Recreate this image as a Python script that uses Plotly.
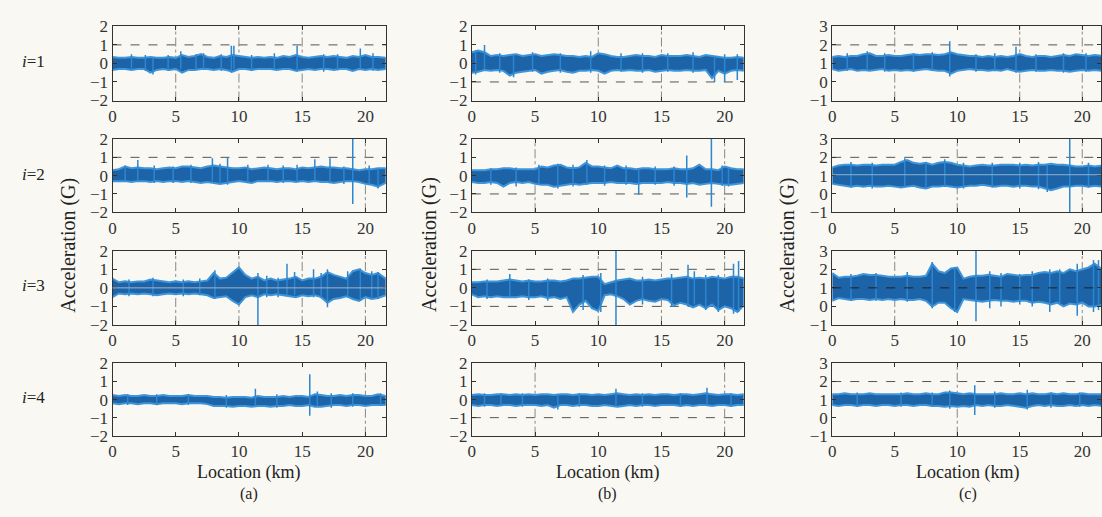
import plotly.graph_objects as go

LOC = [0, 0.5, 1, 1.5, 2, 2.5, 3, 3.5, 4, 4.5,
       5, 5.5, 6, 6.5, 7, 7.5, 8, 8.5, 9, 9.5,
       10, 10.5, 11, 11.5, 12, 12.5, 13, 13.5, 14, 14.5,
       15, 15.5, 16, 16.5, 17, 17.5, 18, 18.5, 19, 19.5,
       20, 20.5, 21, 21.6]

# ---- column (a) ----
A1_UP = [0.35,0.3,0.3,0.35,0.3,0.3,0.35,0.3,0.3,0.35,
         0.3,0.45,0.35,0.4,0.5,0.35,0.3,0.4,0.35,0.45,
         0.4,0.35,0.3,0.35,0.3,0.35,0.3,0.4,0.35,0.45,
         0.35,0.3,0.35,0.4,0.35,0.4,0.35,0.3,0.4,0.35,
         0.45,0.35,0.35,0.3]
A1_LO = [-0.35,-0.3,-0.3,-0.35,-0.3,-0.3,-0.5,-0.35,-0.3,-0.35,
         -0.3,-0.5,-0.35,-0.35,-0.3,-0.3,-0.35,-0.3,-0.35,-0.45,
         -0.3,-0.3,-0.35,-0.3,-0.3,-0.3,-0.35,-0.3,-0.3,-0.4,
         -0.35,-0.3,-0.35,-0.3,-0.3,-0.35,-0.3,-0.3,-0.4,-0.3,
         -0.35,-0.3,-0.35,-0.3]
A1_SPK = [(5.4,0.65,-0.3),(7.2,0.55,-0.3),(9.4,0.95,-0.5),(9.6,0.95,-0.3),
          (14.6,0.95,-0.45),(19.6,0.8,-0.3),(3.2,0.3,-0.6),
          (1.5,0.5,-0.35),(2.6,0.45,-0.4),(4.4,0.45,-0.4),(6.6,0.5,-0.35),
          (8.6,0.5,-0.4),(11.0,0.45,-0.4),(12.8,0.55,-0.35),(16.7,0.5,-0.45),
          (17.8,0.5,-0.35),(20.6,0.55,-0.4)]

A2_UP = [0.3,0.35,0.5,0.4,0.45,0.4,0.4,0.35,0.4,0.45,
         0.4,0.5,0.5,0.45,0.4,0.5,0.55,0.5,0.45,0.4,
         0.4,0.45,0.35,0.4,0.45,0.4,0.35,0.4,0.4,0.35,
         0.45,0.4,0.45,0.5,0.45,0.45,0.4,0.4,0.35,0.3,
         0.35,0.35,0.4,0.4]
A2_LO = [-0.3,-0.3,-0.3,-0.35,-0.3,-0.3,-0.35,-0.3,-0.35,-0.3,
         -0.3,-0.35,-0.3,-0.35,-0.4,-0.35,-0.4,-0.45,-0.4,-0.35,
         -0.3,-0.35,-0.4,-0.3,-0.3,-0.3,-0.35,-0.3,-0.3,-0.35,
         -0.3,-0.35,-0.3,-0.35,-0.35,-0.4,-0.35,-0.3,-0.3,-0.35,
         -0.45,-0.5,-0.6,-0.4]
A2_SPK = [(1.0,0.55,-0.3),(2.0,0.85,-0.3),(7.9,0.95,-0.3),(9.1,1.0,-0.5),
          (12.3,0.6,-0.3),(16.0,0.9,-0.3),(17.2,0.95,-0.4),(19.0,2.0,-1.55),
          (21.0,0.4,-0.7),
          (3.3,0.55,-0.4),(4.8,0.5,-0.4),(6.2,0.6,-0.4),(8.5,0.65,-0.45),
          (10.7,0.6,-0.4),(13.5,0.55,-0.4),(14.6,0.6,-0.35),(18.3,0.5,-0.45),
          (20.3,0.55,-0.5)]

A3_UP = [0.5,0.3,0.35,0.3,0.35,0.35,0.45,0.4,0.35,0.3,
         0.35,0.3,0.35,0.3,0.35,0.4,0.8,0.5,0.55,0.8,
         1.1,0.7,0.5,0.6,0.4,0.5,0.4,0.45,0.5,0.6,
         0.4,0.5,0.5,0.6,0.85,0.7,0.6,0.5,0.9,1.0,
         0.8,0.7,0.8,0.5]
A3_LO = [-0.5,-0.3,-0.35,-0.3,-0.35,-0.3,-0.35,-0.4,-0.35,-0.3,
         -0.35,-0.3,-0.35,-0.3,-0.35,-0.4,-0.55,-0.5,-0.45,-0.7,
         -0.9,-0.5,-0.4,-0.5,-0.35,-0.4,-0.35,-0.4,-0.45,-0.5,
         -0.4,-0.45,-0.4,-0.5,-0.8,-0.6,-0.55,-0.45,-0.6,-0.7,
         -0.5,-0.6,-0.55,-0.4]
A3_SPK = [(8.1,0.95,-0.6),(11.5,0.8,-2.0),(13.8,1.3,-0.4),(14.4,0.85,-0.4),
          (15.9,1.0,-0.5),(17.0,1.0,-1.05),(18.6,0.9,-0.5),(19.6,1.05,-0.7),
          (20.5,0.9,-0.5),
          (1.3,0.45,-0.45),(3.2,0.55,-0.45),(5.6,0.45,-0.45),(6.9,0.5,-0.4),
          (12.2,0.65,-0.5),(13.1,0.55,-0.5),(16.5,0.8,-0.55),(21.0,0.85,-0.6)]

A4_UP = [0.25,0.2,0.25,0.2,0.2,0.25,0.2,0.2,0.25,0.2,
         0.2,0.2,0.25,0.2,0.2,0.2,0.15,0.15,0.1,0.15,
         0.15,0.15,0.1,0.2,0.15,0.15,0.15,0.2,0.15,0.2,
         0.2,0.15,0.3,0.25,0.2,0.2,0.25,0.2,0.25,0.25,
         0.2,0.2,0.3,0.2]
A4_LO = [-0.2,-0.25,-0.2,-0.2,-0.25,-0.2,-0.2,-0.25,-0.2,-0.2,
         -0.2,-0.25,-0.2,-0.2,-0.2,-0.25,-0.35,-0.35,-0.35,-0.4,
         -0.35,-0.35,-0.4,-0.35,-0.35,-0.4,-0.35,-0.35,-0.3,-0.35,
         -0.35,-0.3,-0.4,-0.4,-0.35,-0.3,-0.3,-0.35,-0.3,-0.3,
         -0.35,-0.3,-0.3,-0.3]
A4_SPK = [(11.3,0.6,-0.3),(15.6,1.4,-0.9),(16.2,0.45,-0.35),(21.2,0.35,-0.35),
          (1.2,0.3,-0.3),(3.5,0.3,-0.3),(6.0,0.3,-0.3),(9.0,0.25,-0.45),
          (13.0,0.3,-0.45),(17.3,0.35,-0.45),(19.0,0.35,-0.4)]

# ---- column (b) ----
B1_UP = [0.6,0.7,0.6,0.4,0.45,0.4,0.45,0.5,0.4,0.45,
         0.5,0.4,0.45,0.5,0.45,0.4,0.4,0.35,0.4,0.35,
         0.55,0.5,0.4,0.35,0.35,0.4,0.45,0.4,0.4,0.35,
         0.45,0.4,0.4,0.4,0.45,0.4,0.35,0.45,0.4,0.35,
         0.3,0.3,0.35,0.3]
B1_LO = [-0.5,-0.45,-0.35,-0.4,-0.35,-0.4,-0.65,-0.5,-0.45,-0.4,
         -0.35,-0.55,-0.45,-0.4,-0.35,-0.45,-0.5,-0.4,-0.4,-0.35,
         -0.4,-0.55,-0.4,-0.35,-0.4,-0.35,-0.4,-0.4,-0.35,-0.45,
         -0.4,-0.35,-0.4,-0.4,-0.35,-0.4,-0.4,-0.35,-0.8,-0.4,
         -0.55,-0.4,-0.35,-0.4]
B1_SPK = [(1.0,1.0,-0.3),(3.3,0.5,-0.75),(19.2,0.4,-1.0),(20.0,0.5,-1.0),
          (21.0,0.5,-0.9),
          (0.3,0.7,-0.6),(2.2,0.55,-0.5),(4.8,0.6,-0.45),(7.0,0.55,-0.5),
          (9.4,0.65,-0.5),(11.8,0.55,-0.45),(13.5,0.55,-0.5),(15.5,0.55,-0.45),
          (17.5,0.6,-0.5)]

B2_UP = [0.3,0.3,0.3,0.35,0.35,0.4,0.4,0.35,0.35,0.35,
         0.35,0.5,0.45,0.55,0.6,0.45,0.4,0.45,0.7,0.5,
         0.5,0.45,0.4,0.55,0.4,0.4,0.35,0.4,0.4,0.35,
         0.35,0.35,0.4,0.35,0.35,0.4,0.6,0.35,0.35,0.3,
         0.5,0.4,0.35,0.35]
B2_LO = [-0.35,-0.4,-0.4,-0.35,-0.4,-0.6,-0.4,-0.35,-0.4,-0.35,
         -0.45,-0.5,-0.5,-0.6,-0.55,-0.5,-0.45,-0.5,-0.45,-0.4,
         -0.4,-0.4,-0.35,-0.4,-0.4,-0.4,-0.45,-0.4,-0.4,-0.4,
         -0.4,-0.35,-0.4,-0.4,-0.45,-0.4,-0.5,-0.45,-0.4,-0.45,
         -0.5,-0.5,-0.45,-0.4]
B2_SPK = [(5.3,0.6,-0.5),(6.8,0.65,-0.7),(9.1,0.85,-0.5),(13.2,0.4,-1.05),
          (17.0,1.1,-1.2),(18.95,2.0,-1.7),(20.3,0.4,-0.6),
          (1.5,0.4,-0.5),(3.5,0.45,-0.6),(8.0,0.6,-0.6),(10.5,0.55,-0.55),
          (12.2,0.55,-0.5),(14.5,0.5,-0.5),(16.0,0.5,-0.55),(19.8,0.55,-0.55)]

B3_UP = [0.3,0.3,0.35,0.35,0.35,0.4,0.45,0.4,0.35,0.4,
         0.35,0.35,0.4,0.4,0.35,0.4,0.5,0.5,0.55,0.6,
         0.6,0.2,0.3,0.4,0.45,0.5,0.4,0.4,0.45,0.4,
         0.45,0.5,0.5,0.55,0.6,0.5,0.55,0.5,0.6,0.55,
         0.5,0.6,0.6,0.5]
B3_LO = [-0.35,-0.5,-0.45,-0.5,-0.45,-0.5,-0.5,-0.5,-0.45,-0.5,
         -0.5,-0.45,-0.55,-0.5,-0.6,-0.5,-1.3,-0.9,-0.7,-1.1,
         -1.25,-0.4,-0.35,-0.45,-0.6,-0.9,-0.7,-0.6,-0.7,-0.75,
         -0.6,-0.65,-0.95,-0.8,-0.9,-1.05,-0.9,-1.1,-0.9,-1.2,
         -1.0,-1.1,-1.3,-0.9]
B3_SPK = [(3.0,0.75,-0.5),(11.4,2.0,-2.0),(17.1,1.25,-1.0),(17.6,0.9,-0.9),
          (20.7,1.3,-1.4),(21.1,1.45,-1.3),
          (1.2,0.45,-0.6),(4.5,0.45,-0.65),(6.0,0.5,-0.7),(8.8,0.7,-1.2),
          (10.2,0.8,-1.3),(13.5,0.6,-0.9),(15.8,0.75,-1.0),(18.5,0.7,-1.2),
          (19.5,0.7,-1.3)]

B4_UP = [0.25,0.3,0.25,0.25,0.3,0.3,0.25,0.3,0.25,0.3,
         0.25,0.3,0.3,0.25,0.3,0.3,0.25,0.3,0.3,0.25,
         0.3,0.25,0.3,0.35,0.3,0.25,0.3,0.25,0.3,0.25,
         0.3,0.3,0.25,0.3,0.3,0.25,0.3,0.35,0.3,0.25,
         0.3,0.3,0.25,0.3]
B4_LO = [-0.3,-0.35,-0.3,-0.3,-0.35,-0.3,-0.3,-0.35,-0.3,-0.3,
         -0.3,-0.35,-0.3,-0.45,-0.3,-0.3,-0.35,-0.3,-0.3,-0.35,
         -0.35,-0.3,-0.35,-0.4,-0.35,-0.3,-0.35,-0.3,-0.3,-0.35,
         -0.3,-0.3,-0.3,-0.35,-0.3,-0.35,-0.3,-0.3,-0.35,-0.3,
         -0.3,-0.35,-0.3,-0.3]
B4_SPK = [(11.4,0.6,-0.3),(18.6,0.65,-0.35),(6.8,0.3,-0.55),(2.3,0.35,-0.35),
          (1.0,0.35,-0.4),(4.0,0.35,-0.4),(8.5,0.35,-0.4),(13.5,0.35,-0.4),
          (16.5,0.35,-0.4),(20.5,0.35,-0.4)]

# ---- column (c) ----
C1_UP = [1.35,1.4,1.35,1.4,1.4,1.5,1.55,1.4,1.4,1.45,
         1.4,1.4,1.45,1.5,1.45,1.5,1.5,1.45,1.5,1.6,
         1.5,1.45,1.4,1.4,1.35,1.4,1.35,1.4,1.35,1.4,
         1.5,1.4,1.35,1.4,1.4,1.35,1.4,1.45,1.4,1.5,
         1.45,1.4,1.45,1.4]
C1_LO = [0.7,0.6,0.65,0.7,0.6,0.65,0.6,0.65,0.7,0.6,
         0.65,0.6,0.65,0.6,0.65,0.7,0.65,0.6,0.6,0.45,
         0.6,0.65,0.7,0.65,0.65,0.6,0.65,0.6,0.7,0.6,
         0.55,0.6,0.65,0.6,0.6,0.65,0.6,0.6,0.55,0.6,
         0.65,0.6,0.65,0.6]
C1_SPK = [(2.8,1.65,0.7),(9.4,2.2,0.3),(14.7,1.9,0.5),(8.0,1.6,0.6),
          (1.2,1.55,0.6),(4.2,1.55,0.55),(6.5,1.55,0.55),(11.5,1.5,0.55),
          (13.0,1.55,0.6),(16.3,1.5,0.55),(18.5,1.55,0.5),(20.3,1.55,0.55)]

C2_UP = [1.45,1.55,1.6,1.6,1.55,1.6,1.6,1.55,1.6,1.6,
         1.6,1.75,1.85,1.7,1.65,1.7,1.6,1.7,1.75,1.7,
         1.6,1.55,1.5,1.55,1.6,1.55,1.55,1.6,1.6,1.6,
         1.55,1.6,1.55,1.6,1.6,1.65,1.6,1.6,1.55,1.5,
         1.5,1.55,1.5,1.55]
C2_LO = [0.55,0.5,0.45,0.4,0.45,0.4,0.45,0.4,0.4,0.45,
         0.4,0.35,0.4,0.45,0.35,0.3,0.4,0.4,0.45,0.4,
         0.35,0.4,0.45,0.45,0.5,0.45,0.4,0.45,0.45,0.4,
         0.45,0.45,0.4,0.4,0.3,0.2,0.3,0.4,0.4,0.45,
         0.45,0.4,0.45,0.4]
C2_SPK = [(17.2,1.6,0.1),(19.0,3.0,-1.0),(9.0,1.9,0.4),(5.8,1.95,0.4),
          (1.5,1.75,0.35),(3.2,1.7,0.3),(7.5,1.75,0.35),(10.5,1.7,0.3),
          (12.8,1.7,0.35),(15.0,1.7,0.3),(16.5,1.75,0.25),(20.5,1.7,0.35)]

C3_UP = [1.8,1.55,1.6,1.6,1.65,1.75,1.7,1.7,1.65,1.6,
         1.6,1.6,1.65,1.6,1.6,1.65,2.3,1.9,1.8,2.05,
         2.1,1.5,1.6,1.65,1.65,1.7,1.65,1.6,1.75,1.7,
         1.65,1.7,1.7,1.8,1.85,1.8,1.9,1.8,2.0,1.9,
         2.0,2.1,2.3,2.0]
C3_LO = [0.3,0.45,0.4,0.35,0.4,0.4,0.35,0.4,0.35,0.4,
         0.35,0.4,0.35,0.35,0.4,0.3,0.0,0.2,0.2,-0.1,
         -0.3,0.4,0.35,0.3,0.25,0.3,0.35,0.3,0.3,0.25,
         0.3,0.3,0.2,0.25,0.2,0.1,0.2,0.0,0.15,0.1,
         0.2,0.0,0.0,0.1]
C3_SPK = [(8.0,2.4,-0.1),(11.5,3.0,-0.8),(12.6,1.9,-0.1),(17.4,2.0,-0.3),
          (19.6,2.3,-0.5),(20.9,2.5,-0.3),(21.3,2.5,-0.2),
          (1.5,1.75,0.3),(3.5,1.8,0.3),(6.0,1.85,0.25),(9.8,2.1,-0.3),
          (13.5,1.8,0.0),(15.0,1.75,0.1),(16.0,1.9,0.0),(18.2,2.0,0.1)]

C4_UP = [1.3,1.3,1.35,1.3,1.3,1.3,1.35,1.3,1.3,1.3,
         1.3,1.3,1.35,1.3,1.3,1.35,1.3,1.3,1.4,1.4,
         1.35,1.3,1.35,1.3,1.3,1.3,1.3,1.35,1.3,1.3,
         1.35,1.3,1.35,1.3,1.3,1.35,1.3,1.35,1.3,1.3,
         1.35,1.3,1.3,1.3]
C4_LO = [0.7,0.65,0.7,0.7,0.65,0.7,0.7,0.65,0.7,0.7,
         0.65,0.7,0.7,0.65,0.7,0.7,0.65,0.65,0.6,0.65,
         0.6,0.65,0.6,0.7,0.65,0.7,0.65,0.65,0.7,0.65,
         0.6,0.55,0.65,0.7,0.65,0.7,0.65,0.65,0.7,0.65,
         0.7,0.65,0.7,0.65]
C4_SPK = [(11.4,1.8,0.15),(9.4,1.5,0.5),(15.6,1.55,0.45),
          (2.0,1.4,0.6),(5.5,1.4,0.6),(8.0,1.4,0.6),(13.0,1.45,0.55),
          (17.5,1.4,0.55),(19.8,1.4,0.6)]

ROW_LABELS = ["<i>i</i>=1", "<i>i</i>=2", "<i>i</i>=3", "<i>i</i>=4"]
COL_LABELS = ["(a)", "(b)", "(c)"]
X_TICKS = [0, 5, 10, 15, 20]
Y_TICKS_AB = [-2, -1, 0, 1, 2]
Y_TICKS_C = [-1, 0, 1, 2, 3]

# ---- styling / layout (pixel geometry) ----
W, H = 1102, 517
COL_PX = [(109, 384, 21.65), (470, 743, 21.5), (832, 1102, 21.5)]
ROW_PX = [(18, 95), (135, 211), (251, 328), (368, 443)]
FONT = "Liberation Serif"
CORE = "#1c63a8"
EDGE = "#3f95da"

panels = [
    [(A1_UP, A1_LO, A1_SPK), (B1_UP, B1_LO, B1_SPK), (C1_UP, C1_LO, C1_SPK)],
    [(A2_UP, A2_LO, A2_SPK), (B2_UP, B2_LO, B2_SPK), (C2_UP, C2_LO, C2_SPK)],
    [(A3_UP, A3_LO, A3_SPK), (B3_UP, B3_LO, B3_SPK), (C3_UP, C3_LO, C3_SPK)],
    [(A4_UP, A4_LO, A4_SPK), (B4_UP, B4_LO, B4_SPK), (C4_UP, C4_LO, C4_SPK)],
]
THRESH = [[[1], [-1], [2]],
          [[1], [-1], [2]],
          [[], [1, -1], []],
          [[], [-1], [2]]]
VGRID = [[[5, 10, 15], [10, 15], [5, 15, 20]],
         [[20], [5, 20], [10, 20]],
         [[5, 10, 15, 20], [10, 15, 20], [5, 20]],
         [[20], [5, 20], [10]]]

fig = go.Figure()
layout = {}
shapes = []
annotations = []
for r in range(4):
    for c in range(3):
        k = r * 3 + c + 1
        xa = "x" if k == 1 else f"x{k}"
        ya = "y" if k == 1 else f"y{k}"
        up, lo, spk = panels[r][c]
        n = min(len(LOC), len(up), len(lo))
        fig.add_trace(go.Scatter(x=LOC[:n], y=lo[:n], mode="lines",
                                 line=dict(color=EDGE, width=2),
                                 xaxis=xa, yaxis=ya, showlegend=False, hoverinfo="skip"))
        fig.add_trace(go.Scatter(x=LOC[:n], y=up[:n], mode="lines", fill="tonexty",
                                 fillcolor=CORE, line=dict(color=EDGE, width=2),
                                 xaxis=xa, yaxis=ya, showlegend=False, hoverinfo="skip"))
        sx, sy = [], []
        for (px, top, bot) in spk:
            sx += [px, px, None]
            sy += [bot, top, None]
        fig.add_trace(go.Scatter(x=sx, y=sy, mode="lines",
                                 line=dict(color="#2d86d0", width=1.5),
                                 xaxis=xa, yaxis=ya, showlegend=False, hoverinfo="skip"))
        x0, x1, xmax = COL_PX[c]
        y0, y1 = ROW_PX[r]
        yr = [-1, 3] if c == 2 else [-2, 2]
        yt = Y_TICKS_C if c == 2 else Y_TICKS_AB
        ax = dict(domain=[x0 / W, min(1.0, x1 / W)], range=[0, xmax], anchor=ya,
                  tickvals=X_TICKS, ticks="inside", ticklen=4, tickcolor="#333",
                  mirror="allticks", showline=True, linecolor="#333", linewidth=1,
                  showgrid=False, zeroline=False,
                  tickfont=dict(family=FONT, size=17, color="#333"))
        ay = dict(domain=[1 - y1 / H, 1 - y0 / H], range=yr, anchor=xa,
                  tickvals=yt, ticktext=[str(v).replace("-", "\u2212") for v in yt],
                  ticks="inside", ticklen=4, tickcolor="#333",
                  mirror="allticks", showline=True, linecolor="#333", linewidth=1,
                  showgrid=False, zeroline=False,
                  tickfont=dict(family=FONT, size=17, color="#333"))
        layout["xaxis" if k == 1 else f"xaxis{k}"] = ax
        layout["yaxis" if k == 1 else f"yaxis{k}"] = ay
        for tv in THRESH[r][c]:
            shapes.append(dict(type="line", xref=f"{xa} domain", yref=ya, x0=0, x1=1,
                               y0=tv, y1=tv, layer="below",
                               line=dict(color="#555", width=1, dash="dash")))
        for gv in VGRID[r][c]:
            shapes.append(dict(type="line", xref=xa, yref=f"{ya} domain", x0=gv, x1=gv,
                               y0=0, y1=1, layer="below",
                               line=dict(color="#888", width=1, dash="dashdot")))

# centre reference lines drawn over the signal
shapes.append(dict(type="line", xref="x7 domain", yref="y7", x0=0, x1=1, y0=0, y1=0,
                   line=dict(color="#a8b4c0", width=1)))
shapes.append(dict(type="line", xref="x6 domain", yref="y6", x0=0, x1=1, y0=1.05, y1=1.05,
                   line=dict(color="#8fb0cc", width=1)))
shapes.append(dict(type="line", xref="x9 domain", yref="y9", x0=0, x1=1, y0=1, y1=1,
                   line=dict(color="#222", width=1, dash="dash")))

row_y = [55, 172, 287, 403]
for r in range(4):
    annotations.append(dict(text=ROW_LABELS[r], x=30 / W, y=1 - row_y[r] / H,
                            xref="paper", yref="paper", showarrow=False,
                            xanchor="center", yanchor="middle",
                            font=dict(family=FONT, size=17, color="#222")))
ylab_x = [65, 428, 788]
col_cx = [246, 606, 968]
for c in range(3):
    annotations.append(dict(text="Acceleration (G)", x=ylab_x[c] / W, y=1 - 245 / H,
                            xref="paper", yref="paper", showarrow=False, textangle=-90,
                            xanchor="center", yanchor="middle",
                            font=dict(family=FONT, size=20, color="#222")))
    annotations.append(dict(text="Location (km)", x=col_cx[c] / W, y=1 - 481 / H,
                            xref="paper", yref="paper", showarrow=False,
                            xanchor="center", yanchor="middle",
                            font=dict(family=FONT, size=18, color="#222")))
    annotations.append(dict(text=COL_LABELS[c], x=col_cx[c] / W, y=1 - 503 / H,
                            xref="paper", yref="paper", showarrow=False,
                            xanchor="center", yanchor="middle",
                            font=dict(family=FONT, size=16, color="#222")))

fig.update_layout(width=W, height=H, margin=dict(l=0, r=0, t=0, b=0),
                  paper_bgcolor="#f9f8f3", plot_bgcolor="#f9f8f3",
                  shapes=shapes, annotations=annotations, **layout)
fig.write_html("out.html")
